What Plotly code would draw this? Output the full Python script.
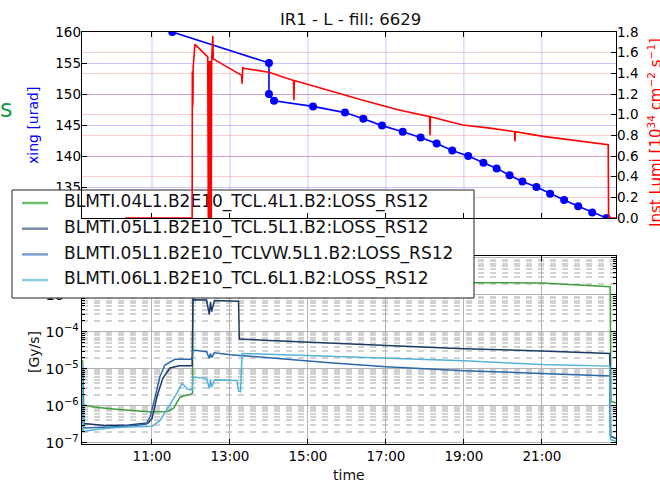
import pandas as pd
import plotly.graph_objects as go

DAY = pd.Timestamp("2018-05-06")

# ---------------- data (time in hours of day) ----------------
xing_t = [11.52, 14.0, 14.0, 14.13, 15.13, 15.95, 16.42, 16.9, 17.43, 17.89, 18.3, 18.7,
          19.11, 19.5, 19.84, 20.17, 20.5, 20.86, 21.21, 21.57, 21.93, 22.29, 22.66]
xing_v = [160.0, 155.0, 150.0, 148.9, 148.0, 147.0, 146.0, 144.9, 143.9, 143.0, 142.0, 140.9,
          140.0, 138.9, 138.0, 136.9, 135.9, 135.0, 133.9, 132.9, 131.9, 130.9, 130.0]

lumi_t = [10.31, 12.03, 12.035, 12.04, 12.045, 12.05, 12.055, 12.10, 12.43, 12.445, 12.45,
          12.46, 12.47, 12.48, 12.49, 12.50, 12.51, 12.52, 12.53, 12.56, 12.57, 13.30,
          13.31, 13.33, 13.35, 14.0, 14.63, 14.64, 14.65, 15.56, 16.41, 17.28, 18.12,
          18.13, 18.14, 18.97, 19.67, 20.30, 20.31, 20.32, 21.03, 22.70, 22.71, 22.90]
lumi_v = [0.0, 0.0, 1.42, 1.08, 1.40, 1.12, 1.45, 1.68, 1.56, 0.0, 1.52,
          0.0, 1.50, 0.0, 1.52, 0.0, 1.50, 0.0, 1.53, 1.76, 1.54, 1.38,
          1.30, 1.46, 1.45, 1.41, 1.33, 1.14, 1.33, 1.23, 1.14, 1.05, 0.98,
          0.80, 0.98, 0.90, 0.87, 0.835, 0.74, 0.835, 0.79, 0.71, 0.0, 0.0]

loss_names = ["BLMTI.04L1.B2E10_TCL.4L1.B2:LOSS_RS12",
              "BLMTI.05L1.B2E10_TCL.5L1.B2:LOSS_RS12",
              "BLMTI.05L1.B2E10_TCLVW.5L1.B2:LOSS_RS12",
              "BLMTI.06L1.B2E10_TCL.6L1.B2:LOSS_RS12"]

g04_t = [9.215, 9.22, 9.25, 9.5, 10.0, 10.5, 11.0, 11.4, 11.55, 11.72, 11.85, 11.98, 12.04,
         12.05, 14.0, 16.0, 19.3, 21.0, 22.75, 22.77, 22.9]
g04_v = [1.0e-6, 1.7e-5, 1.05e-6, 9.2e-7, 8.2e-7, 7.3e-7, 6.8e-7, 7.0e-7, 8.5e-7, 1.7e-6, 1.9e-6,
         2.0e-6, 2.2e-6, 2.6e-3, 2.4e-3, 2.3e-3, 2.12e-3, 2.1e-3, 1.65e-3, 1.3e-6, 1.2e-6]

n05_t = [9.215, 9.22, 9.25, 9.8, 10.4, 10.9, 11.0, 11.13, 11.28, 11.46, 11.7, 12.03, 12.05,
         12.4, 12.47, 12.5, 12.53, 12.6, 13.22, 13.24, 14.0, 15.56, 17.0, 19.0, 21.0, 22.74,
         22.76, 22.9]
n05_v = [3.0e-7, 8.0e-6, 3.3e-7, 2.9e-7, 3.0e-7, 3.4e-7, 4.5e-7, 1.8e-6, 5.6e-6, 1.05e-5,
         1.2e-5, 1.2e-5, 7.4e-4, 7.2e-4, 2.9e-4, 6.5e-4, 3.5e-4, 7.0e-4, 6.7e-4, 6.4e-5,
         5.8e-5, 4.9e-5, 4.2e-5, 3.5e-5, 3.0e-5, 2.6e-5, 1.5e-7, 1.3e-7]

v05_t = [9.215, 9.22, 9.25, 9.8, 10.4, 10.85, 10.95, 11.08, 11.2, 11.33, 11.59, 12.03, 12.05,
         12.4, 12.47, 12.5, 12.53, 12.6, 13.0, 14.0, 15.56, 17.0, 19.0, 21.0, 22.74, 22.76, 22.9]
v05_v = [2.5e-7, 1.1e-5, 2.5e-7, 2.6e-7, 2.8e-7, 3.2e-7, 5.0e-7, 1.7e-6, 6.0e-6, 1.26e-5,
         1.8e-5, 1.8e-5, 3.2e-5, 2.9e-5, 1.9e-5, 2.6e-5, 2.0e-5, 2.7e-5, 2.4e-5, 2.0e-5,
         1.45e-5, 1.13e-5, 8.9e-6, 7.5e-6, 6.4e-6, 1.5e-7, 1.3e-7]

l06_t = [9.21, 9.215, 9.24, 9.6, 10.2, 11.0, 11.2, 11.45, 11.64, 11.77, 11.92, 12.03, 12.05,
         12.4, 12.47, 12.5, 12.53, 12.6, 13.18, 13.22, 13.27, 13.31, 15.56, 17.0, 19.0, 21.0,
         22.74, 22.76, 22.9]
l06_v = [2.0e-7, 1.5e-5, 2.0e-7, 2.3e-7, 2.6e-7, 2.8e-7, 3.9e-7, 1.0e-6, 2.2e-6, 4.0e-6,
         2.8e-6, 2.7e-6, 6.0e-6, 5.5e-6, 2.9e-6, 5.2e-6, 3.2e-6, 5.0e-6, 4.8e-6, 2.5e-6,
         2.4e-6, 2.6e-5, 2.2e-5, 1.9e-5, 1.65e-5, 1.3e-5, 1.18e-5, 1.2e-7, 1.1e-7]

loss_series = [(g04_t, g04_v), (n05_t, n05_v), (v05_t, v05_v), (l06_t, l06_v)]
loss_colors = ["#3d9e3d", "#1d3a66", "#2b68a8", "#52b2d8"]
legend_colors = ["#6cbf6c", "#7a8ba6", "#7ea2cf", "#8fcde3"]

x_range_h = [9.205, 22.9]
xtick_h = [11, 13, 15, 17, 19, 21]


def T(hours):
    return [DAY + pd.Timedelta(hours=h) for h in hours]


# ---------------- geometry (pixels of the 660x482 page) ----------------
W, H = 660, 482
FONT = "DejaVu Sans"
PLOT_L, PLOT_R = 82, 616
TOP_T, TOP_B = 32, 218
BOT_T, BOT_B = 256, 444
LEG_L, LEG_R, LEG_T, LEG_B = 12, 474, 190, 298
LEG_ROW0, LEG_ROW_H = 203, 25.7
LEG_SAMPLE = (22, 48)
LEG_TEXT_X = 64
BLUE_GRID = "rgba(0,0,255,0.22)"


def px(x):
    return x / W


def py(y):
    return 1 - y / H


xr = T(x_range_h)
xt = T(xtick_h)
tickfont = dict(family=FONT, size=13.5, color="#000")

fig = go.Figure()

# A: top-panel grid + tick labels (drawn first, under the legend box)
fig.add_trace(go.Scatter(x=T(xing_t), y=xing_v, xaxis="x", yaxis="y", showlegend=False,
                         hoverinfo="skip", mode="lines", opacity=0))
fig.add_trace(go.Scatter(x=T(lumi_t), y=lumi_v, xaxis="x", yaxis="y2", showlegend=False,
                         hoverinfo="skip", mode="lines", opacity=0))

# B: loss monitors (bottom panel)
for (tt, vv), c in zip(loss_series, loss_colors):
    fig.add_trace(go.Scatter(x=T(tt), y=vv, mode="lines", xaxis="x2", yaxis="y3",
                             line=dict(color=c, width=1.5), showlegend=False))

# C: legend box (its own subplot, drawn over the bottom panel)
fig.add_trace(go.Scatter(x=[LEG_L, LEG_R, LEG_R, LEG_L, LEG_L],
                         y=[LEG_T, LEG_T, LEG_B, LEG_B, LEG_T],
                         mode="lines", fill="toself", fillcolor="white",
                         line=dict(color="#222", width=1), xaxis="x3", yaxis="y4",
                         showlegend=False, hoverinfo="skip"))
rows = [LEG_ROW0 + i * LEG_ROW_H for i in range(len(loss_names))]
for r, c in zip(rows, legend_colors):
    fig.add_trace(go.Scatter(x=list(LEG_SAMPLE), y=[r, r], mode="lines",
                             line=dict(color=c, width=2.5), xaxis="x3", yaxis="y4",
                             showlegend=False, hoverinfo="skip"))
fig.add_trace(go.Scatter(x=[LEG_TEXT_X] * len(rows), y=rows, mode="text", text=loss_names,
                         textposition="middle right",
                         textfont=dict(family=FONT, size=17, color="#111"),
                         xaxis="x3", yaxis="y4", showlegend=False, hoverinfo="skip"))

# D: top-panel data + frame (drawn last, above the legend box)
fig.add_trace(go.Scatter(x=T(xing_t), y=xing_v, mode="lines+markers", xaxis="x4", yaxis="y5",
                         line=dict(color="#0000ff", width=1.6),
                         marker=dict(color="#0000ff", size=8), showlegend=False))
fig.add_trace(go.Scatter(x=T(lumi_t), y=lumi_v, mode="lines", xaxis="x4", yaxis="y6",
                         line=dict(color="#ff0000", width=1.6), showlegend=False))

top_x = [px(PLOT_L), px(PLOT_R)]
top_y = [py(TOP_B), py(TOP_T)]
bot_y = [py(BOT_B), py(BOT_T)]

# vertical grid of the top panel, placed at the x ticks (below everything)
grid_shapes = [dict(type="line", xref="x", yref="paper", x0=t, x1=t,
                    y0=top_y[0], y1=top_y[1], layer="below",
                    line=dict(color=BLUE_GRID, width=1)) for t in xt]

fig.update_layout(
    template="none",
    width=W, height=H,
    margin=dict(l=0, r=0, t=0, b=0),
    paper_bgcolor="white", plot_bgcolor="rgba(0,0,0,0)",
    font=dict(family=FONT, size=13.5, color="#000"),
    showlegend=False,
    shapes=grid_shapes,
    # A
    xaxis=dict(type="date", domain=top_x, anchor="y", range=xr, tickvals=xt,
               showticklabels=False, ticks="", showline=False, zeroline=False,
               automargin=False, showgrid=False),
    yaxis=dict(domain=top_y, anchor="x", range=[130, 160], dtick=5, ticks="",
               showline=False, zeroline=False, automargin=False, showgrid=True,
               gridcolor=BLUE_GRID, gridwidth=1, tickfont=tickfont),
    yaxis2=dict(overlaying="y", side="right", anchor="x", range=[0, 1.8], dtick=0.2,
                tickformat=".1f", ticks="", showline=False, zeroline=False,
                automargin=False, showgrid=True, gridcolor="rgba(255,0,0,0.2)",
                gridwidth=1, tickfont=tickfont),
    # B
    xaxis2=dict(type="date", domain=top_x, anchor="y3", range=xr, tickvals=xt,
                tickformat="%H:%M", ticks="inside", ticklen=5, tickcolor="#000",
                showline=True, linecolor="#000", linewidth=1, mirror="ticks",
                zeroline=False, automargin=False, showgrid=True, gridcolor="#b4b4b4",
                gridwidth=1, tickfont=tickfont),
    yaxis3=dict(domain=bot_y, anchor="x2", type="log", range=[-7.035, -1.95], dtick=1,
                exponentformat="power", ticks="inside", ticklen=5, tickcolor="#000",
                showline=True, linecolor="#000", linewidth=1, mirror="ticks",
                zeroline=False, automargin=False, showgrid=True, gridcolor="#b4b4b4",
                tickfont=dict(family=FONT, size=11.5, color="#000"),
                minor=dict(dtick="D1", ticks="inside", ticklen=3, tickcolor="#000",
                           showgrid=True, gridcolor="#d2d2d2", gridwidth=1.5,
                           griddash="6px,6px")),
    # C
    xaxis3=dict(domain=[px(LEG_L - 1), px(LEG_R + 1)], anchor="y4",
                range=[LEG_L - 1, LEG_R + 1], visible=False, automargin=False),
    yaxis4=dict(domain=[py(LEG_B + 1), py(LEG_T - 1)], anchor="x3",
                range=[LEG_B + 1, LEG_T - 1], visible=False, automargin=False),
    # D
    xaxis4=dict(type="date", domain=top_x, anchor="y5", range=xr, tickvals=xt,
                showticklabels=False, ticks="inside", ticklen=5, tickcolor="#000",
                showline=True, linecolor="#000", linewidth=1, mirror="ticks",
                zeroline=False, automargin=False, showgrid=False),
    yaxis5=dict(domain=top_y, anchor="x4", range=[130, 160], dtick=5, ticks="inside",
                ticklen=5, tickcolor="#000", showticklabels=False, showline=True,
                linecolor="#000", linewidth=1, zeroline=False, automargin=False,
                showgrid=False),
    yaxis6=dict(overlaying="y5", side="right", anchor="x4", range=[0, 1.8], dtick=0.2,
                ticks="inside", ticklen=5, tickcolor="#000", showticklabels=False,
                showline=True, linecolor="#000", linewidth=1, zeroline=False,
                automargin=False, showgrid=False),
)

ann = [
    dict(x=px(350), y=py(20), text="IR1 - L - fill: 6629",
         font=dict(size=16.5, color="#111")),
    dict(x=px(33), y=py(126), text="xing [urad]", textangle=-90,
         font=dict(size=14, color="#0000ff")),
    dict(x=px(655), y=py(133),
         text="Inst Lumi [10<sup>34</sup> cm<sup>\u22122</sup> s<sup>\u22121</sup>]",
         textangle=-90, font=dict(size=15, color="#ff0000")),
    dict(x=px(34), y=py(352), text="[Gy/s]", textangle=-90,
         font=dict(size=14, color="#111")),
    dict(x=px(349), y=py(475), text="time", font=dict(size=14, color="#111")),
    dict(x=px(6), y=py(109), text="s", font=dict(size=24, color="#1a9e4a")),
]
for a in ann:
    a.update(xref="paper", yref="paper", showarrow=False, xanchor="center",
             yanchor="middle")
    a["font"]["family"] = FONT
fig.update_layout(annotations=ann)

fig.write_html("out.html")
